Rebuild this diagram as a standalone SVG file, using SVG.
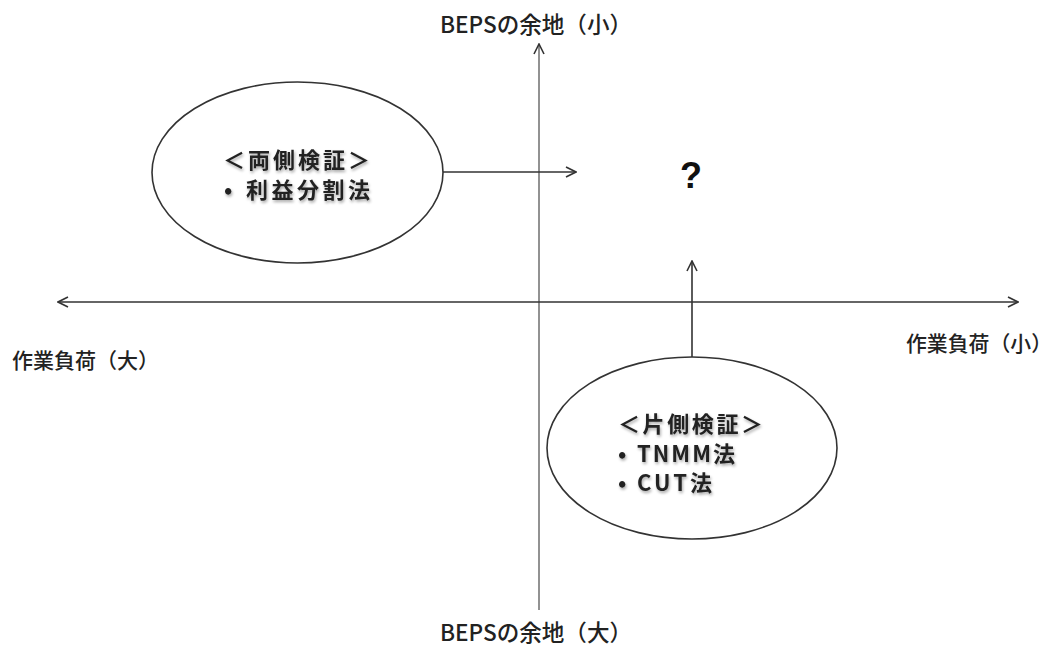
<svg xmlns="http://www.w3.org/2000/svg" width="1058" height="648" viewBox="0 0 1058 648">
<style>
.lbl{font-family:"Noto Sans CJK JP","Noto Sans",sans-serif;font-size:22.5px;fill:#222;font-weight:500}
.lbl2{font-family:"Noto Sans CJK JP","Noto Sans",sans-serif;font-size:21px;fill:#222;font-weight:500}
.in{font-family:"Noto Sans CJK JP","Noto Sans",sans-serif;font-size:22px;fill:#222;font-weight:bold}
.ax{stroke:#333;stroke-width:1.6;fill:none}
.ell{fill:#fff;stroke:#333;stroke-width:1.6}
</style>
<defs>
<marker id="open" viewBox="0 0 12 12" refX="11" refY="6" markerWidth="12" markerHeight="12" markerUnits="userSpaceOnUse" orient="auto-start-reverse">
<path d="M1,1 L11,6 L1,11" fill="none" stroke="#333" stroke-width="1.6"/>
</marker>
<filter id="sh" x="-10%" y="-20%" width="130%" height="160%">
<feGaussianBlur in="SourceAlpha" stdDeviation="1.5"/>
<feOffset dx="1" dy="2" result="b"/>
<feComponentTransfer><feFuncA type="linear" slope="0.35"/></feComponentTransfer>
<feMerge><feMergeNode/><feMergeNode in="SourceGraphic"/></feMerge>
</filter>
</defs>
<rect width="1058" height="648" fill="#fff"/>
<g id="connectors">
<line class="ax" x1="539" y1="610" x2="539" y2="44" marker-end="url(#open)" style="stroke:#777"/>
<line class="ax" x1="58" y1="302" x2="1018" y2="302" marker-start="url(#open)" marker-end="url(#open)"/>
<line class="ax" x1="443" y1="172" x2="576" y2="172" marker-end="url(#open)"/>
<line class="ax" x1="692" y1="357" x2="692" y2="261" marker-end="url(#open)"/>
</g>
<g id="axis-labels">
<text class="lbl" x="440" y="33" textLength="192" lengthAdjust="spacingAndGlyphs">BEPSの余地（小）</text>
<text class="lbl" x="440" y="641" textLength="192" lengthAdjust="spacingAndGlyphs">BEPSの余地（大）</text>
<text class="lbl2" x="12" y="368" textLength="147" lengthAdjust="spacingAndGlyphs">作業負荷（大）</text>
<text class="lbl2" x="906" y="351" textLength="146" lengthAdjust="spacingAndGlyphs">作業負荷（小）</text>
</g>
<g id="node-ryosoku">
<ellipse class="ell" cx="297.5" cy="172.5" rx="145.5" ry="90.5"/>
<g filter="url(#sh)">
<text class="in" x="223" y="168" textLength="147" lengthAdjust="spacing">＜両側検証＞</text>
<text class="in" x="224" y="198">•</text>
<text class="in" x="246" y="198" textLength="124" lengthAdjust="spacing">利益分割法</text>
</g>
</g>
<g id="node-question">
<text x="691" y="188" text-anchor="middle" style="font-family:'Liberation Sans',sans-serif;font-size:36px;font-weight:bold;fill:#111">?</text>
</g>
<g id="node-katasoku">
<ellipse class="ell" cx="692" cy="448" rx="145" ry="91"/>
<g filter="url(#sh)">
<text class="in" x="618" y="432" textLength="145" lengthAdjust="spacing">＜片側検証＞</text>
<text class="in" x="618" y="462">•</text>
<text class="in" x="637" y="462" textLength="98" lengthAdjust="spacing">TNMM法</text>
<text class="in" x="618" y="491">•</text>
<text class="in" x="637" y="491" textLength="75" lengthAdjust="spacing">CUT法</text>
</g>
</g>
</svg>
